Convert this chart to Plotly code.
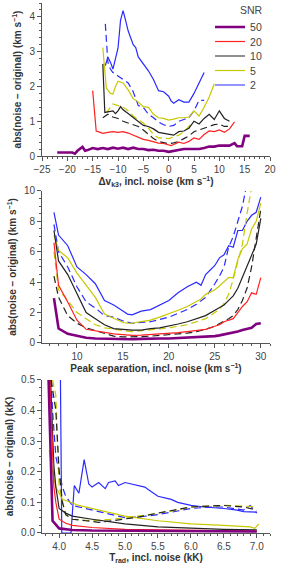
import plotly.graph_objects as go

# ---------------- Panel 1: Delta v_k3 ----------------
p1_x50 = [-22, -21, -20, -19, -18.5, -18, -17, -16.5, -16, -15, -14, -13, -12, -11, -10, -9, -8, -7, -6, -5, -4, -3, -2, -1, 0, 1, 2, 3, 4, 5, 6, 7, 8, 9, 10, 11, 12, 13, 13.5, 14, 14.5, 15, 16]
p1_y50 = [0.1, 0.1, 0.09, 0.1, 0.07, 0.15, 0.26, 0.15, 0.17, 0.23, 0.2, 0.23, 0.2, 0.24, 0.21, 0.24, 0.2, 0.24, 0.2, 0.2, 0.17, 0.18, 0.15, 0.15, 0.12, 0.15, 0.18, 0.2, 0.2, 0.2, 0.2, 0.23, 0.27, 0.27, 0.3, 0.3, 0.3, 0.37, 0.28, 0.28, 0.28, 0.58, 0.58]

p1_x20 = [-15, -14.3, -13.5, -13, -12, -11, -10, -9, -8, -7, -6, -5, -4, -3, -2, -1, 0, 0.5, 1, 2, 3, 4, 5, 6, 7, 8, 9, 10, 11, 12, 13]
p1_y20 = [1.88, 0.72, 0.68, 0.65, 0.68, 0.7, 0.68, 0.7, 0.66, 0.6, 0.55, 0.48, 0.45, 0.4, 0.37, 0.36, 0.33, 0.3, 0.33, 0.4, 0.36, 0.42, 0.52, 0.48, 0.62, 0.72, 0.7, 0.75, 0.68, 0.78, 0.98]

p1_x10 = [-13, -12.6, -12, -11, -10.5, -10, -9.5, -9, -8, -7, -6, -5, -4, -3, -2, -1, 0, 1, 2, 3, 4, 5, 6, 7, 8, 9, 10, 10.5, 11, 12]
p1_y10 = [2.65, 1.25, 1.27, 1.3, 1.22, 1.3, 1.42, 1.33, 1.22, 1.1, 1.0, 0.88, 0.85, 0.78, 0.68, 0.65, 0.64, 0.6, 0.7, 0.72, 0.8, 1.0, 0.92, 1.08, 1.2, 1.05, 1.3, 1.18, 1.08, 1.0]
p1_x10d = [-13, -12, -11, -10, -9, -8, -7, -6, -5, -4, -3, -2, -1, 0, 1, 2, 3, 4, 5, 6, 7, 8, 9, 10, 11, 12]
p1_y10d = [1.1, 1.2, 1.12, 1.08, 1.0, 0.95, 0.9, 0.85, 0.75, 0.62, 0.5, 0.42, 0.38, 0.35, 0.38, 0.42, 0.5, 0.58, 0.7, 0.75, 0.78, 0.85, 0.9, 0.92, 0.85, 0.85]

p1_x5 = [-13, -12.3, -11.5, -11, -10.5, -10, -9, -8, -7, -6, -5, -4, -3, -2, -1, 0, 1, 2, 3, 4, 5, 6, 7, 8, 9]
p1_y5 = [3.12, 1.95, 1.8, 1.78, 2.0, 2.15, 2.1, 1.9, 1.65, 1.55, 1.42, 1.4, 1.2, 1.1, 1.08, 1.03, 1.06, 1.1, 1.1, 1.12, 1.3, 1.15, 1.4, 1.7, 2.08]
p1_x5d = [-12.5, -12, -11, -10, -9, -8, -7, -6, -5, -4, -3, -2, -1, 0, 1, 2, 3, 4, 5]
p1_y5d = [1.25, 1.3, 1.5, 1.45, 1.4, 1.3, 1.15, 1.05, 0.95, 0.8, 0.62, 0.52, 0.5, 0.5, 0.55, 0.6, 0.7, 0.85, 1.0]

p1_x2 = [-12.5, -12, -11.5, -11, -10.5, -10, -9.5, -9, -8.5, -8, -7, -6.5, -6, -5, -4, -3, -2, -1, 0, 0.5, 1, 2, 3, 4, 5, 6, 7]
p1_y2 = [2.6, 2.85, 2.7, 2.5, 2.8, 3.1, 3.9, 4.18, 3.9, 3.6, 3.2, 3.12, 2.85, 2.65, 2.45, 2.2, 1.88, 1.85, 1.72, 1.58, 1.52, 1.62, 1.55, 1.55, 1.8, 2.1, 2.4]
p1_x2d = [-12.5, -12, -11.5, -11, -10, -9, -8, -7, -6, -5, -4, -3, -2, -1, 0, 1, 2, 3, 4, 5, 6, 7]
p1_y2d = [3.8, 2.7, 2.5, 2.4, 2.3, 2.2, 2.1, 1.85, 1.45, 1.4, 1.2, 1.1, 0.98, 0.9, 0.85, 0.88, 1.0, 1.05, 1.1, 1.3, 1.6, 1.6]

# ---------------- Panel 2: peak separation ----------------
p2_x = [7.5, 8, 9, 10, 11, 12, 13, 14, 15, 15.5, 16, 17, 18, 19, 20, 21, 22, 23, 23.5, 24, 25, 25.5, 26, 26.5, 27, 27.5, 28, 28.5, 29, 29.5, 30]
p2_y50 = [2.95, 0.95, 0.6, 0.45, 0.35, 0.3, 0.28, 0.25, 0.25, 0.25, 0.25, 0.27, 0.3, 0.3, 0.3, 0.33, 0.35, 0.37, 0.38, 0.4, 0.45, 0.5, 0.55, 0.6, 0.65, 0.75, 0.85, 0.92, 1.0, 1.25, 1.3]
p2_y20 = [6.6, 3.8, 2.7, 1.5, 0.9, 0.8, 0.7, 0.6, 0.55, 0.52, 0.5, 0.52, 0.55, 0.58, 0.6, 0.68, 0.75, 0.82, 0.85, 0.9, 1.1, 1.2, 1.4, 1.5, 1.6, 2.0, 2.4, 2.7, 3.3, 3.2, 4.3]
p2_y10 = [7.4, 5.4, 4.5, 3.3, 2.0, 1.6, 1.2, 0.95, 0.9, 0.88, 0.85, 0.85, 0.95, 1.0, 1.1, 1.25, 1.4, 1.6, 1.7, 1.8, 2.15, 2.3, 2.5, 2.8, 3.1, 3.6, 4.3, 5.0, 5.7, 6.5, 8.2]
p2_y10d = [4.4, 3.0, 1.8, 1.3, 1.0, 0.8, 0.6, 0.45, 0.4, 0.4, 0.4, 0.42, 0.45, 0.5, 0.55, 0.6, 0.65, 0.75, 0.8, 0.9, 1.1, 1.25, 1.4, 1.6, 1.8, 2.2, 2.8, 3.6, 5.0, 7.0, 8.8]
p2_y5 = [7.1, 6.1, 5.6, 4.6, 3.8, 3.0, 1.9, 1.6, 1.35, 1.3, 1.3, 1.4, 1.5, 1.7, 1.9, 2.15, 2.4, 2.75, 2.9, 3.2, 3.5, 3.75, 4.0, 4.3, 4.3, 5.5, 6.2, 6.5, 7.5, 8.0, 9.2]
p2_y5d = [6.0, 3.5, 2.8, 2.0, 1.6, 1.2, 1.0, 0.9, 0.8, 0.78, 0.75, 0.8, 0.85, 0.92, 1.0, 1.1, 1.2, 1.4, 1.5, 1.6, 2.0, 2.2, 2.6, 3.2, 4.2, 5.3, 6.5, 8.5, 10.5, 12.0, 13.0]
p2_y2 = [8.6, 7.1, 6.4, 5.0, 4.5, 3.9, 2.8, 2.5, 2.1, 1.9, 1.85, 2.1, 2.2, 2.5, 2.8, 3.3, 3.7, 4.0, 3.8, 4.5, 5.1, 5.6, 5.8, 6.4, 6.3, 7.4, 7.4, 8.0, 8.4, 8.6, 9.6]
p2_y2d = [7.8, 6.0, 5.0, 3.7, 2.7, 2.3, 1.8, 1.7, 1.45, 1.35, 1.3, 1.35, 1.4, 1.55, 1.7, 1.95, 2.2, 2.55, 2.8, 3.0, 3.9, 4.4, 5.0, 6.3, 7.0, 8.0, 9.0, 10.5, 12.0, 13.0, 14.0]

# ---------------- Panel 3: T_rad ----------------
p3_x50 = [3.84, 3.9, 4.0, 4.2, 4.5, 5.0, 5.5, 6.0, 6.5, 7.0]
p3_y50 = [0.5, 0.04, 0.015, 0.01, 0.008, 0.007, 0.006, 0.006, 0.005, 0.005]
p3_x20 = [3.86, 3.92, 3.95, 4.0, 4.1, 4.2, 4.5, 5.0, 5.5, 6.0, 6.5, 7.0]
p3_y20 = [0.5, 0.15, 0.1, 0.045, 0.032, 0.025, 0.018, 0.012, 0.01, 0.008, 0.007, 0.006]
p3_x10 = [3.87, 3.92, 3.95, 4.0, 4.1, 4.2, 4.5, 5.0, 5.5, 6.0, 6.5, 7.0]
p3_y10 = [0.5, 0.22, 0.15, 0.08, 0.065, 0.055, 0.045, 0.03, 0.02, 0.015, 0.012, 0.01]
p3_x10d = [3.88, 3.95, 4.0, 4.05, 4.1, 4.2, 4.4, 4.6, 4.8, 5.0, 5.2, 5.5, 5.8, 6.0, 6.3, 6.5, 6.8, 7.0]
p3_y10d = [0.5, 0.4, 0.2, 0.1, 0.06, 0.045, 0.04, 0.035, 0.04, 0.045, 0.052, 0.065, 0.078, 0.085, 0.088, 0.09, 0.085, 0.075]
p3_x5 = [3.85, 3.9, 3.95, 4.05, 4.3, 4.6, 5.0, 5.5, 6.0, 6.5, 6.9, 6.97, 7.03]
p3_y5 = [0.27, 0.2, 0.15, 0.11, 0.09, 0.075, 0.055, 0.04, 0.03, 0.025, 0.02, 0.015, 0.03]
p3_x5d = [3.9, 3.95, 4.0, 4.05, 4.1, 4.2, 4.5, 4.8, 5.0, 5.3, 5.5, 5.8, 6.0, 6.3, 6.5, 6.8, 7.0]
p3_y5d = [0.5, 0.45, 0.15, 0.1, 0.06, 0.045, 0.04, 0.045, 0.05, 0.058, 0.065, 0.075, 0.085, 0.088, 0.09, 0.088, 0.085]
p3_x2 = [4.02, 4.04, 4.1, 4.18, 4.23, 4.3, 4.38, 4.45, 4.5, 4.6, 4.7, 4.75, 4.85, 4.9, 5.0, 5.1, 5.2, 5.3, 5.4, 5.5, 5.7, 5.8, 6.0, 6.2, 6.5, 6.7, 6.8, 7.0]
p3_y2 = [0.5, 0.0, 0.0, 0.0, 0.155, 0.13, 0.24, 0.16, 0.15, 0.165, 0.145, 0.165, 0.17, 0.155, 0.165, 0.16, 0.155, 0.15, 0.135, 0.12, 0.11, 0.1, 0.09, 0.085, 0.08, 0.075, 0.07, 0.068]
p3_x2d = [3.88, 3.9, 3.95, 4.0, 4.05, 4.1, 4.2, 4.4, 4.6, 4.8, 5.0, 5.2, 5.5, 5.8, 6.0, 6.3, 6.5, 6.8, 6.9, 7.0]
p3_y2d = [0.5, 0.4, 0.25, 0.2, 0.15, 0.12, 0.09, 0.08, 0.07, 0.06, 0.05, 0.052, 0.06, 0.072, 0.08, 0.085, 0.085, 0.075, 0.09, 0.065]

snr_labels = ["50", "20", "10", "5", "2"]
colors = {"50": "#800080", "20": "#ff2020", "10": "#222222", "5": "#c8c800", "2": "#2a2aff"}
widths = {"50": 2.6, "20": 1.2, "10": 1.2, "5": 1.2, "2": 1.2}
legend_ids = {"50": "legend", "20": "legend2", "10": "legend3", "5": "legend4", "2": "legend5"}

fig = go.Figure()

def add(x, y, snr, ax, dashed=False, legend=False):
    fig.add_trace(go.Scatter(
        x=x, y=y, mode="lines", name=snr,
        line=dict(color=colors[snr], width=widths[snr], dash="7px,4px" if dashed else "solid"),
        xaxis="x" + ax, yaxis="y" + ax, showlegend=legend, legend=legend_ids[snr],
        hoverinfo="skip"))

# panel 1
add(p1_x2d, p1_y2d, "2", "", True)
add(p1_x2, p1_y2, "2", "", False, True)
add(p1_x5d, p1_y5d, "5", "", True)
add(p1_x5, p1_y5, "5", "", False, True)
add(p1_x10d, p1_y10d, "10", "", True)
add(p1_x10, p1_y10, "10", "", False, True)
add(p1_x20, p1_y20, "20", "", False, True)
add(p1_x50, p1_y50, "50", "", False, True)
# panel 2
add(p2_x, p2_y2d, "2", "2", True)
add(p2_x, p2_y2, "2", "2")
add(p2_x, p2_y5d, "5", "2", True)
add(p2_x, p2_y5, "5", "2")
add(p2_x, p2_y10d, "10", "2", True)
add(p2_x, p2_y10, "10", "2")
add(p2_x, p2_y20, "20", "2")
add(p2_x, p2_y50, "50", "2")
# panel 3
add(p3_x2d, p3_y2d, "2", "3", True)
add(p3_x2, p3_y2, "2", "3")
add(p3_x5d, p3_y5d, "5", "3", True)
add(p3_x5, p3_y5, "5", "3")
add(p3_x10d, p3_y10d, "10", "3", True)
add(p3_x10, p3_y10, "10", "3")
add(p3_x20, p3_y20, "20", "3")
add(p3_x50, p3_y50, "50", "3")

FONT = "Liberation Sans"
axcol = "#555555"
tfont = dict(family=FONT, size=10, color="#444444")
titfont = dict(family=FONT, size=10, color="#333333")

def xax(rng, dtick, mdtick, anchor, title, fmt=None):
    d = dict(range=rng, dtick=dtick, anchor=anchor, showline=True, linecolor=axcol, linewidth=1,
             ticks="outside", ticklen=4, tickcolor=axcol, showgrid=False, zeroline=False,
             tickfont=tfont, title=dict(text=title, font=titfont, standoff=3),
             minor=dict(ticks="outside", ticklen=2, dtick=mdtick, tickcolor=axcol, showgrid=False))
    if fmt:
        d["tickformat"] = fmt
    return d

def yax(rng, dtick, mdtick, anchor, domain, title, fmt=None):
    d = dict(range=rng, dtick=dtick, anchor=anchor, domain=domain, showline=True, linecolor=axcol, linewidth=1,
             ticks="outside", ticklen=4, tickcolor=axcol, showgrid=False, zeroline=False,
             tickfont=tfont, title=dict(text=title, font=titfont, standoff=5),
             minor=dict(ticks="outside", ticklen=2, dtick=mdtick, tickcolor=axcol, showgrid=False))
    if fmt:
        d["tickformat"] = fmt
    return d

# legend entry centres (pixels from top) -> paper coords
PLOT_TOP, PLOT_H = 3, 530
leg_px = {"50": 27, "20": 41.5, "10": 56, "5": 70.5, "2": 85}
leg_font = dict(family=FONT, size=10.5, color="#444444")
legends = {}
for snr, lid in legend_ids.items():
    legends[lid] = dict(x=0.737, y=1 - (leg_px[snr] - PLOT_TOP) / PLOT_H, xanchor="left", yanchor="middle",
                        bgcolor="rgba(0,0,0,0)", font=leg_font, itemwidth=30)

ytitle_v = "<b>abs(noise − original) (km s<sup>−1</sup>)</b>"
fig.update_layout(
    width=283, height=564,
    margin=dict(l=42, r=13, t=3, b=31, autoexpand=False),
    paper_bgcolor="white", plot_bgcolor="white",
    font=dict(family=FONT, color="#444444"),
    xaxis=xax([-25, 20], 5, 1, "y", "<b>Δv<sub>k3</sub>, incl. noise (km s<sup>−1</sup>)</b>"),
    yaxis=yax([0, 4.4], 1, 0.2, "x", [0.7113, 1.0], ytitle_v),
    xaxis2=xax([6.2, 31], 5, 1, "y2", "<b>Peak separation, incl. noise (km s<sup>−1</sup>)</b>"),
    yaxis2=yax([0, 10], 2, 0.5, "x2", [0.3585, 0.6453], ytitle_v),
    xaxis3=xax([3.74, 7.2], 0.5, 0.1, "y3", "<b>T<sub>rad</sub>, incl. noise (kK)</b>", ".1f"),
    yaxis3=yax([0, 0.5], 0.1, 0.025, "x3", [0.0, 0.2887], "<b>abs(noise − original) (kK)</b>", ".1f"),
    showlegend=True,
    annotations=[dict(text="SNR", x=0.921, y=1 - (10 - PLOT_TOP) / PLOT_H, xref="paper", yref="paper",
                      xanchor="center", yanchor="middle", showarrow=False, font=leg_font)],
    **legends,
)

fig.write_html("out.html", config={"displayModeBar": False, "staticPlot": True},
               post_script="document.body.style.margin='0';document.body.style.overflow='hidden';")
